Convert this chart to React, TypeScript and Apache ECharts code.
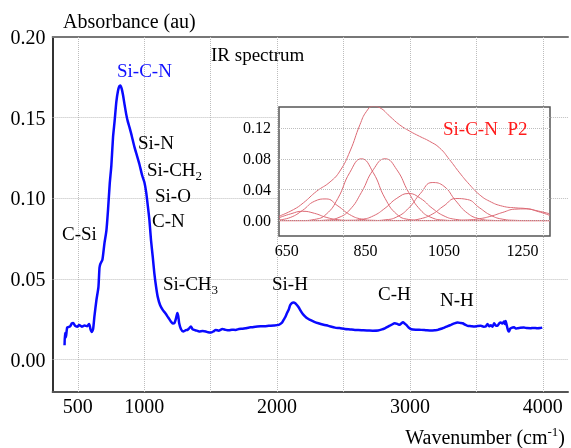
import React, { useEffect, useRef } from 'react';
import * as echarts from 'echarts';

// Main IR spectrum (wavenumber cm-1, absorbance au)
const specWavenumber = [
  400, 403, 410, 420, 440, 455, 465, 480, 495, 510, 530, 550, 570, 585, 595, 605, 615, 625, 640, 655,
  663, 670, 685, 700, 715, 727, 740, 752, 765, 777, 790, 802, 812, 820, 830, 839, 850, 864, 875, 889,
  905, 927, 945, 964, 985, 1001, 1014, 1026, 1039, 1051, 1064, 1076, 1089, 1101, 1119, 1139, 1159, 1176, 1190, 1201,
  1215, 1226, 1239, 1249, 1256, 1263, 1276, 1293, 1313, 1326, 1338, 1351, 1363, 1376, 1395, 1413, 1440, 1463, 1480, 1501,
  1520, 1538, 1560, 1588, 1612, 1638, 1660, 1688, 1713, 1740, 1763, 1790, 1812, 1838, 1880, 1912, 1937, 1975, 2012, 2035,
  2049, 2062, 2074, 2087, 2099, 2112, 2124, 2137, 2149, 2162, 2174, 2192, 2212, 2230, 2249, 2280, 2311, 2350, 2386, 2436,
  2470, 2511, 2550, 2586, 2611, 2650, 2686, 2720, 2760, 2790, 2811, 2835, 2860, 2886, 2905, 2923, 2935, 2948, 2960, 2973,
  2990, 3010, 3050, 3085, 3120, 3160, 3190, 3210, 3235, 3260, 3285, 3309, 3335, 3359, 3380, 3397, 3415, 3434, 3460, 3484,
  3510, 3534, 3555, 3571, 3584, 3596, 3609, 3622, 3634, 3646, 3659, 3672, 3684, 3697, 3709, 3715, 3721, 3728, 3734, 3740,
  3746, 3753, 3759, 3772, 3784, 3797, 3809, 3830, 3858, 3880, 3908, 3930, 3958, 3980, 3996,
];
const specAbsorbance = [
  0.0090, 0.0165, 0.0140, 0.0200, 0.0205, 0.0225, 0.0228, 0.0210, 0.0205, 0.0215, 0.0205, 0.0212, 0.0208, 0.0222, 0.0190, 0.0172, 0.0190, 0.0270, 0.0370, 0.0450,
  0.0570, 0.0595, 0.0620, 0.0720, 0.0800, 0.0926, 0.1090, 0.1200, 0.1380, 0.1480, 0.1600, 0.1666, 0.1695, 0.1700, 0.1680, 0.1645, 0.1590, 0.1522, 0.1480, 0.1440,
  0.1390, 0.1316, 0.1265, 0.1210, 0.1140, 0.1100, 0.1040, 0.0960, 0.0864, 0.0740, 0.0637, 0.0535, 0.0452, 0.0391, 0.0339, 0.0309, 0.0288, 0.0267, 0.0250, 0.0236,
  0.0225, 0.0226, 0.0257, 0.0290, 0.0270, 0.0226, 0.0190, 0.0175, 0.0183, 0.0185, 0.0195, 0.0206, 0.0190, 0.0185, 0.0180, 0.0175, 0.0178, 0.0175, 0.0170, 0.0168,
  0.0175, 0.0185, 0.0180, 0.0190, 0.0185, 0.0182, 0.0186, 0.0185, 0.0190, 0.0192, 0.0195, 0.0200, 0.0201, 0.0205, 0.0207, 0.0208, 0.0210, 0.0212, 0.0216, 0.0228,
  0.0247, 0.0265, 0.0288, 0.0310, 0.0339, 0.0352, 0.0355, 0.0350, 0.0339, 0.0325, 0.0308, 0.0285, 0.0267, 0.0255, 0.0247, 0.0235, 0.0226, 0.0217, 0.0210, 0.0199,
  0.0196, 0.0191, 0.0188, 0.0185, 0.0185, 0.0182, 0.0181, 0.0180, 0.0181, 0.0188, 0.0195, 0.0205, 0.0216, 0.0226, 0.0222, 0.0216, 0.0225, 0.0232, 0.0225, 0.0216,
  0.0200, 0.0189, 0.0186, 0.0185, 0.0183, 0.0181, 0.0183, 0.0185, 0.0192, 0.0199, 0.0208, 0.0216, 0.0225, 0.0230, 0.0228, 0.0226, 0.0217, 0.0210, 0.0208, 0.0206,
  0.0209, 0.0210, 0.0205, 0.0206, 0.0222, 0.0208, 0.0213, 0.0205, 0.0226, 0.0212, 0.0210, 0.0225, 0.0230, 0.0225, 0.0237, 0.0222, 0.0240, 0.0216, 0.0195, 0.0180,
  0.0175, 0.0190, 0.0195, 0.0200, 0.0201, 0.0193, 0.0195, 0.0198, 0.0199, 0.0196, 0.0195, 0.0197, 0.0195, 0.0196, 0.0199,
];

const mainXTickLabels = [500, 1000, 2000, 3000, 4000];
const mainXGrid = [500, 1000, 1500, 2000, 2500, 3000, 3500, 4000];
const mainYTickLabels = [0, 0.05, 0.1, 0.15, 0.2];

// Inset: Si-C-N peak decomposition (P2)
const insetX = [630, 660, 690, 720, 750, 780, 810, 840, 870, 900, 930, 960, 990, 1020, 1050, 1080, 1110, 1140, 1170, 1200, 1230, 1260, 1290, 1320];
const fitPeak1 = [0.0036, 0.0087, 0.012, 0.0094, 0.0042, 0.0011, 0.0002, 0, 0, 0, 0, 0, 0, 0, 0, 0, 0, 0, 0, 0, 0, 0, 0, 0];
const fitPeak2 = [0.0008, 0.0042, 0.0132, 0.0249, 0.028, 0.0189, 0.0077, 0.0019, 0.0003, 0, 0, 0, 0, 0, 0, 0, 0, 0, 0, 0, 0, 0, 0, 0];
const fitPeak3 = [0, 0, 0, 0.0014, 0.0081, 0.0288, 0.062, 0.08, 0.062, 0.0288, 0.0081, 0.0014, 0, 0, 0, 0, 0, 0, 0, 0, 0, 0, 0, 0];
const fitPeak4 = [0, 0, 0, 0, 0.0006, 0.0035, 0.0138, 0.0366, 0.0658, 0.08, 0.0658, 0.0366, 0.0138, 0.0035, 0.0006, 0, 0, 0, 0, 0, 0, 0, 0, 0];
const fitPeak5 = [0, 0, 0, 0, 0, 0, 0.0003, 0.0015, 0.006, 0.016, 0.0288, 0.035, 0.0288, 0.016, 0.006, 0.0015, 0.0003, 0, 0, 0, 0, 0, 0, 0];
const fitPeak6 = [0, 0, 0, 0, 0, 0, 0, 0, 0, 0.0009, 0.0047, 0.016, 0.035, 0.0492, 0.0444, 0.0256, 0.0095, 0.0023, 0.0003, 0, 0, 0, 0, 0];
const fitPeak7 = [0, 0, 0, 0, 0, 0, 0, 0, 0, 0, 0, 0.0004, 0.0023, 0.0082, 0.0191, 0.0285, 0.0272, 0.0167, 0.0066, 0.0017, 0.0003, 0, 0, 0];
const fitPeak8 = [0, 0, 0, 0, 0, 0, 0, 0, 0, 0, 0, 0, 0, 0, 0, 0.0001, 0.0007, 0.0023, 0.0057, 0.0106, 0.0147, 0.0151, 0.0116, 0.0066];
const envelopeX = [630, 667, 692, 726, 760, 785, 811, 836, 853, 870, 887, 912, 937, 963, 988, 1013, 1039, 1064, 1090, 1115, 1140, 1166, 1199, 1233, 1259, 1284, 1318];
const envelopeY = [0.0056, 0.0142, 0.0229, 0.038, 0.05, 0.064, 0.09, 0.124, 0.1415, 0.148, 0.146, 0.135, 0.124, 0.1157, 0.109, 0.1027, 0.094, 0.079, 0.0617, 0.0466, 0.0337, 0.025, 0.0186, 0.0164, 0.0155, 0.013, 0.009];
const insetXTickLabels = [650, 850, 1050, 1250];
const insetYTickLabels = [0, 0.04, 0.08, 0.12];

const FONT = "'Liberation Serif', 'Times New Roman', serif";
const GRIDLINE = { type: 'dotted' as const, color: '#bdbdbd', width: 1 };
const FIT_COLOR = '#dc6a75';

function pairs(xs: number[], ys: number[]) {
  return xs.map((x, i) => [x, ys[i]]);
}

export default function App() {
  const ref = useRef<HTMLDivElement>(null);
  useEffect(() => {
    const chart = echarts.init(ref.current!, null, { renderer: 'svg' });
    const mainXMin = 310;
    const mainXMax = 4190;
    const insetLeftV = 2004;
    const insetRightV = 4033;
    const markData: any[] = [
      ...mainXGrid.map((v) => ({ xAxis: v })),
      { yAxis: 0 },
      { yAxis: 0.05 },
      ...[0.1, 0.15].flatMap((y) => [
        [{ coord: [mainXMin, y] }, { coord: [insetLeftV, y] }],
        [{ coord: [insetRightV, y] }, { coord: [mainXMax, y] }],
      ]),
    ];
    const fits = [fitPeak1, fitPeak2, fitPeak3, fitPeak4, fitPeak5, fitPeak6, fitPeak7, fitPeak8];
    const txt = (text: string, x: number, y: number, color = '#000', fontSize = 19, align = 'left') => ({
      type: 'text',
      x,
      y,
      z: 10,
      style: {
        text,
        fill: color,
        fontSize,
        fontFamily: FONT,
        align,
        verticalAlign: 'middle',
        textAlign: align,
        textVerticalAlign: 'middle',
      },
    });
    // width of "Si-CH" at 19px Liberation Serif ≈ 2.556em
    const chW = 19 * 2.556;
    const option: any = {
      animation: false,
      grid: [
        { left: 52.6, right: 0, top: 37, bottom: 56 },
        { left: 279, top: 107, width: 271, height: 129, show: true, borderColor: '#555', borderWidth: 1.5, backgroundColor: 'transparent' },
      ],
      xAxis: [
        {
          type: 'value', gridIndex: 0, min: mainXMin, max: mainXMax, interval: 10,
          axisLine: { show: true, onZero: false, lineStyle: { color: '#555', width: 2 } },
          axisTick: { show: false }, splitLine: { show: false },
          axisLabel: {
            margin: 4, fontSize: 20, fontFamily: FONT, color: '#000',
            formatter: (v: number) => (mainXTickLabels.includes(Math.round(v)) ? String(Math.round(v)) : ''),
          },
        },
        {
          type: 'value', gridIndex: 0, position: 'top', min: mainXMin, max: mainXMax,
          axisLine: { show: true, onZero: false, lineStyle: { color: '#777', width: 2 } },
          axisTick: { show: false }, splitLine: { show: false }, axisLabel: { show: false },
        },
        {
          type: 'value', gridIndex: 1, min: 630, max: 1320, interval: 10,
          axisLine: { show: false }, axisTick: { show: false }, splitLine: { show: false },
          axisLabel: {
            margin: 6, fontSize: 16, fontFamily: FONT, color: '#000',
            formatter: (v: number) => (insetXTickLabels.includes(Math.round(v)) ? String(Math.round(v)) : ''),
          },
        },
      ],
      yAxis: [
        {
          type: 'value', gridIndex: 0, min: -0.02, max: 0.2, interval: 0.01,
          axisLine: { show: true, onZero: false, lineStyle: { color: '#333', width: 2 } },
          axisTick: { show: false }, splitLine: { show: false },
          axisLabel: {
            margin: 7, fontSize: 20, fontFamily: FONT, color: '#000',
            formatter: (v: number) => {
              const r = Math.round(v * 100) / 100;
              return mainYTickLabels.some((t) => Math.abs(t - r) < 1e-6) ? r.toFixed(2) : '';
            },
          },
        },
        {
          type: 'value', gridIndex: 1, min: -0.02, max: 0.147, interval: 0.01,
          axisLine: { show: false }, axisTick: { show: false }, splitLine: { show: false },
          axisLabel: {
            margin: 8, fontSize: 16, fontFamily: FONT, color: '#000',
            formatter: (v: number) => {
              const r = Math.round(v * 100) / 100;
              return insetYTickLabels.some((t) => Math.abs(t - r) < 1e-6) ? r.toFixed(2) : '';
            },
          },
        },
      ],
      series: [
        {
          type: 'line', xAxisIndex: 0, yAxisIndex: 0, data: pairs(specWavenumber, specAbsorbance),
          showSymbol: false, smooth: 0.2, z: 4,
          lineStyle: { color: '#0a0aff', width: 2.5 },
          markLine: { silent: true, symbol: 'none', label: { show: false }, lineStyle: GRIDLINE, data: markData, z: 1 },
        },
        ...fits.map((f, i) => ({
          type: 'line', xAxisIndex: 2, yAxisIndex: 1, data: pairs(insetX, f),
          showSymbol: false, smooth: true, z: 3,
          lineStyle: { color: FIT_COLOR, width: 1 },
          ...(i === 0
            ? { markLine: { silent: true, symbol: 'none', label: { show: false }, lineStyle: GRIDLINE, data: insetYTickLabels.map((y) => ({ yAxis: y })) } }
            : {}),
        })),
        {
          type: 'line', xAxisIndex: 2, yAxisIndex: 1, data: pairs(envelopeX, envelopeY),
          showSymbol: false, smooth: true, z: 3,
          lineStyle: { color: FIT_COLOR, width: 1 },
        },
      ],
      graphic: [
        txt('Absorbance (au)', 63, 21, '#000', 20),
        txt('IR spectrum', 211, 54, '#000', 19),
        txt('Si-C-N', 117, 70, '#1010ff', 19),
        txt('Si-N', 138, 142),
        txt('Si-CH', 147, 169),
        txt('2', 147 + chW, 175, '#000', 13),
        txt('Si-O', 155, 195),
        txt('C-N', 152, 220),
        txt('C-Si', 62, 233),
        txt('Si-CH', 163, 283),
        txt('3', 163 + chW, 289, '#000', 13),
        txt('Si-H', 272, 283),
        txt('C-H', 378, 293),
        txt('N-H', 440, 299),
        txt('Si-C-N  P2', 443, 128, '#ff1a1a', 19),
        txt(')', 565, 437, '#000', 20, 'right'),
        txt('-1', 565 - 6.7, 431, '#000', 13, 'right'),
        txt('Wavenumber (cm', 565 - 6.7 - 10.8, 437, '#000', 20, 'right'),
      ],
    };
    chart.setOption(option);
    return () => chart.dispose();
  }, []);
  return <div ref={ref} style={{ position: 'fixed', left: 0, top: 0, width: 571, height: 448 }} />;
}
